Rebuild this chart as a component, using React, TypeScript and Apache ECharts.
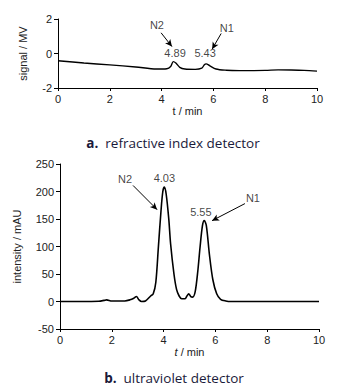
import React, { useEffect, useRef } from "react";
import * as echarts from "echarts";

// Refractive index detector (top)
const riTime = [0, 1, 2, 3, 3.8, 4.2, 4.35, 4.45, 4.55, 4.7, 4.9, 5.3, 5.55, 5.65, 5.72, 5.85, 6.1, 6.5, 7, 8, 8.5, 9, 9.5, 10];
const riSignal = [-0.42, -0.55, -0.66, -0.78, -0.9, -0.88, -0.75, -0.47, -0.55, -0.8, -0.9, -0.92, -0.85, -0.65, -0.6, -0.7, -0.9, -0.97, -0.99, -0.98, -0.95, -0.96, -0.98, -1.02];

// Ultraviolet detector (bottom)
const uvTime = [0, 0.8, 1.5, 1.7, 1.8, 2.0, 2.5, 2.7, 2.85, 2.95, 3.05, 3.15, 3.3, 3.5, 3.6, 3.7, 3.8, 3.9, 3.97, 4.03, 4.1, 4.2, 4.27, 4.4, 4.5, 4.6, 4.7, 4.83, 4.9, 4.97, 5.05, 5.12, 5.22, 5.32, 5.41, 5.5, 5.57, 5.65, 5.77, 5.9, 6.05, 6.2, 6.4, 6.6, 10];
const uvIntensity = [0, 0, 0.5, 2, 3, 1, 1, 3, 6, 9, 3, 0, 1, 10, 14, 35, 100, 165, 200, 208, 195, 150, 105, 50, 22, 10, 5, 5, 10, 14, 9, 8, 18, 55, 100, 138, 147, 138, 85, 40, 14, 4, 1, 0, 0];

const xTicks = [0, 10, 2];
const riTicks = [-2, 2, 2];
const uvTicks = [-50, 250, 50];

// Annotations: [x, y, text]
const riLabels: [number, number, string][] = [
  [3.82, 1.65, "N2"],
  [6.52, 1.5, "N1"],
  [4.52, 0.03, "4.89"],
  [5.68, 0.03, "5.43"],
];
const riArrows: [number, number, number, number][] = [
  [3.98, 1.2, 4.4, 0.4],
  [6.3, 1.16, 5.95, 0.25],
];
const uvLabels: [number, number, string][] = [
  [2.51, 222, "N2"],
  [7.45, 189, "N1"],
  [4.03, 224, "4.03"],
  [5.44, 162, "5.55"],
];
const uvArrows: [number, number, number, number][] = [
  [2.82, 211, 3.75, 167],
  [7.14, 178, 5.87, 147],
];

const NUM_FONT = "'Liberation Sans Narrow', 'Liberation Sans', Arial, sans-serif";
const CAP_FONT = "'Open Sans', 'Noto Sans', sans-serif";

function axisX(gridIndex: number, name: any, rich?: any) {
  return {
    type: "value",
    gridIndex,
    min: xTicks[0],
    max: xTicks[1],
    interval: xTicks[2],
    name,
    nameLocation: "middle",
    nameGap: 17,
    nameTextStyle: { fontFamily: NUM_FONT, fontSize: 11, color: "#222", rich },
    axisLine: { show: true, onZero: false, lineStyle: { color: "#000", width: 1 } },
    axisTick: { show: true, inside: false, length: 3, lineStyle: { color: "#000" } },
    axisLabel: { fontFamily: NUM_FONT, fontSize: 11, color: "#222", margin: 5 },
    splitLine: { show: false },
  };
}

function axisY(gridIndex: number, ticks: number[], name: string, gap: number) {
  return {
    type: "value",
    gridIndex,
    min: ticks[0],
    max: ticks[1],
    interval: ticks[2],
    name,
    nameLocation: "middle",
    nameGap: gap,
    nameTextStyle: { fontFamily: NUM_FONT, fontSize: 11, color: "#222" },
    axisLine: { show: true, onZero: false, lineStyle: { color: "#000", width: 1 } },
    axisTick: { show: true, inside: false, length: 4, lineStyle: { color: "#000" } },
    axisLabel: { fontFamily: NUM_FONT, fontSize: 11, color: "#222", margin: 6 },
    splitLine: { show: false },
  };
}

function labelSeries(idx: number, labels: [number, number, string][]) {
  return {
    type: "scatter",
    xAxisIndex: idx,
    yAxisIndex: idx,
    symbolSize: 0,
    data: labels.map((l) => [l[0], l[1], l[2]]),
    label: {
      show: true,
      position: "inside",
      formatter: (p: any) => p.value[2],
      fontFamily: NUM_FONT,
      fontSize: 11,
      color: "#111",
    },
    silent: true,
    z: 5,
  };
}

function arrowLines(arrows: [number, number, number, number][]) {
  return {
    silent: true,
    symbol: ["none", "arrow"],
    symbolSize: [5, 7],
    label: { show: false },
    lineStyle: { color: "#000", width: 1, type: "solid" },
    data: arrows.map((a) => [{ coord: [a[0], a[1]] }, { coord: [a[2], a[3]] }]),
  };
}

export default function App() {
  const ref = useRef<HTMLDivElement>(null);
  useEffect(() => {
    if (!ref.current) return;
    const chart = echarts.init(ref.current, undefined, { renderer: "svg" });
    chart.setOption({
      animation: false,
      backgroundColor: "#fff",
      grid: [
        { left: 58, right: 25, top: 19, height: 69 },
        { left: 60, right: 23, top: 164, height: 165 },
      ],
      xAxis: [
        axisX(0, "t / min"),
        axisX(1, "{i|t} / min", { i: { fontStyle: "italic", fontFamily: NUM_FONT, fontSize: 11, color: "#222" } }),
      ],
      yAxis: [
        axisY(0, riTicks, "signal / MV", 30),
        axisY(1, uvTicks, "intensity / mAU", 38),
      ],
      series: [
        {
          type: "line",
          xAxisIndex: 0,
          yAxisIndex: 0,
          data: riTime.map((t, i) => [t, riSignal[i]]),
          showSymbol: false,
          smooth: 0.3,
          lineStyle: { color: "#000", width: 1.4 },
          markLine: arrowLines(riArrows),
        },
        labelSeries(0, riLabels),
        {
          type: "line",
          xAxisIndex: 1,
          yAxisIndex: 1,
          data: uvTime.map((t, i) => [t, uvIntensity[i]]),
          showSymbol: false,
          smooth: 0.3,
          lineStyle: { color: "#000", width: 1.6 },
          markLine: arrowLines(uvArrows),
        },
        labelSeries(1, uvLabels),
      ],
      graphic: [
        {
          type: "text",
          x: 173,
          y: 143,
          style: {
            text: "{b|a.}  refractive index detector",
            align: "center",
            verticalAlign: "middle",
            fontFamily: CAP_FONT,
            fontSize: 13.5,
            fill: "#1a1a3a",
            rich: { b: { fontWeight: "bold", fontFamily: CAP_FONT, fontSize: 13.5, fill: "#1a1a3a" } },
          },
        },
        {
          type: "text",
          x: 174,
          y: 378,
          style: {
            text: "{b|b.}  ultraviolet detector",
            align: "center",
            verticalAlign: "middle",
            fontFamily: CAP_FONT,
            fontSize: 13.5,
            fill: "#1a1a3a",
            rich: { b: { fontWeight: "bold", fontFamily: CAP_FONT, fontSize: 13.5, fill: "#1a1a3a" } },
          },
        },
      ],
    });
    return () => chart.dispose();
  }, []);
  return <div ref={ref} style={{ position: "absolute", left: 0, top: 0, width: 342, height: 388 }} />;
}
